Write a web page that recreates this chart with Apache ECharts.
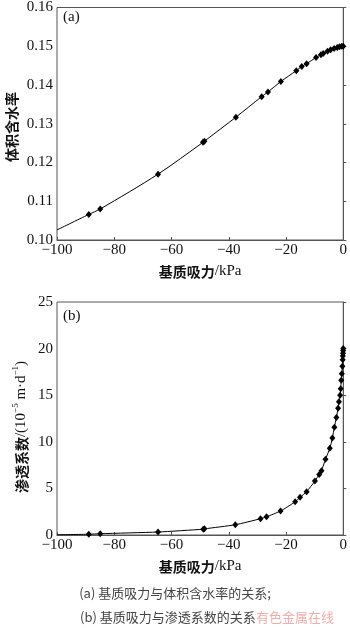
<!DOCTYPE html>
<html><head><meta charset="utf-8">
<script src="https://cdn.jsdelivr.net/npm/echarts@6/dist/echarts.min.js"></script>
<style>html,body{margin:0;padding:0;background:#fff}#c{width:350px;height:628px}</style>
</head><body><div id="c"></div>
<script>
// Panel (a): matric suction (kPa) vs volumetric water content
const suctionA = [-88.9,-84.9,-64.7,-49.0,-48.5,-37.5,-28.5,-26.3,-21.8,-16.4,-14.5,-12.8,-9.5,-7.8,-7.0,-5.5,-4.4,-3.2,-2.1,-1.3,-0.5,0];
const waterA   = [0.1066,0.1080,0.1170,0.1252,0.1255,0.1317,0.1370,0.1382,0.1409,0.1437,0.1448,0.1455,0.1471,0.1478,0.1481,0.1487,0.1491,0.1494,0.1497,0.1499,0.1500,0.1500];
const curveStartA = [-100, 0.1026];
// Panel (b): matric suction (kPa) vs permeability (1e-5 m/d)
const suctionB = [-88.9,-84.9,-64.7,-48.9,-48.5,-37.7,-28.9,-26.8,-21.9,-16.8,-15.1,-12.8,-9.9,-8.4,-7.6,-6.2,-4.7,-3.8,-3.1,-2.4,-1.8,-1.5,-1.1,-0.9,-0.7,-0.5,-0.3,-0.2,-0.15,-0.1,-0.05,0];
const permB    = [0.08,0.14,0.32,0.62,0.66,1.1,1.75,1.96,2.57,3.57,4.04,4.65,5.79,6.5,6.9,8.12,9.3,10.4,11.56,12.6,13.6,14.3,15.0,15.7,16.6,17.3,18.1,18.8,19.2,19.5,19.8,20.0];
const curveStartB = [-100, 0.03];
const xTicks = [-100,-80,-60,-40,-20,0];
const yTicksA = [0.10,0.11,0.12,0.13,0.14,0.15,0.16];
const yTicksB = [0,5,10,15,20,25];

const serif = '"Liberation Serif","Times New Roman",serif';
const cjk = '"Noto Sans CJK SC","Liberation Serif",serif';
const minus = v => String(v).replace('-', '\u2212');

function mk(xs, ys, start){
  const d = [{value:start, symbol:'none'}];
  xs.forEach((x,i)=>d.push([x, ys[i]]));
  return d;
}
const axisLineStyle = {lineStyle:{color:'#555',width:1}};
function xAxis(gi){
  return {type:'value', gridIndex:gi, min:xTicks[0], max:xTicks[xTicks.length-1], interval:20,
    axisLine:{show:true, onZero:false, ...axisLineStyle}, axisTick:{show:true, inside:true, length:3, lineStyle:{color:'#555'}},
    splitLine:{show:false},
    axisLabel:{formatter:minus, fontFamily:serif, fontSize:15, color:'#111', margin:3},
    name:'{c|基质吸力}{s|/kPa}', nameLocation:'middle', nameGap:24,
    nameTextStyle:{color:'#111', rich:{
      c:{fontFamily:cjk, fontSize:14, fontWeight:'bold', color:'#111'},
      s:{fontFamily:serif, fontSize:15, color:'#111'}}}};
}
const chart = echarts.init(document.getElementById('c'), null, {renderer:'canvas'});
chart.setOption({
  animation:false,
  backgroundColor:'#fff',
  grid:[
    {left:57, top:5, width:290, height:235, show:true, borderColor:'#555', borderWidth:1},
    {left:57, top:302, width:290, height:233, show:true, borderColor:'#555', borderWidth:1}
  ],
  xAxis:[xAxis(0), xAxis(1)],
  yAxis:[
    {type:'value', gridIndex:0, min:yTicksA[0], max:yTicksA[yTicksA.length-1], interval:0.01,
      axisLine:{show:true, ...axisLineStyle}, axisTick:{show:true, inside:true, length:3, lineStyle:{color:'#555'}}, splitLine:{show:false},
      axisLabel:{formatter:v=>v.toFixed(2), fontFamily:serif, fontSize:15, color:'#111', margin:4}},
    {type:'value', gridIndex:1, min:yTicksB[0], max:yTicksB[yTicksB.length-1], interval:5,
      axisLine:{show:true, ...axisLineStyle}, axisTick:{show:true, inside:true, length:3, lineStyle:{color:'#555'}}, splitLine:{show:false},
      axisLabel:{fontFamily:serif, fontSize:15, color:'#111', margin:4}}
  ],
  series:[
    {type:'line', xAxisIndex:0, yAxisIndex:0, data:mk(suctionA, waterA, curveStartA), smooth:0.3,
      symbol:'diamond', symbolSize:[6,7], showAllSymbol:true,
      lineStyle:{color:'#000', width:1}, itemStyle:{color:'#000'}},
    {type:'line', xAxisIndex:1, yAxisIndex:1, data:mk(suctionB, permB, curveStartB), smooth:0.2,
      symbol:'diamond', symbolSize:[6,7], showAllSymbol:true,
      lineStyle:{color:'#000', width:1}, itemStyle:{color:'#000'}}
  ],
  graphic:[
    {type:'text', left:63, top:10, style:{text:'(a)', font:'15px '+serif, fill:'#111'}},
    {type:'text', left:63, top:309, style:{text:'(b)', font:'15px '+serif, fill:'#111'}},
    {type:'text', x:12, y:127, rotation:Math.PI/2, style:{text:'体积含水率', font:'bold 14px '+cjk, fill:'#111', align:'center', verticalAlign:'middle'}},
    {type:'text', x:20, y:427, rotation:Math.PI/2, style:{
      text:'{c|渗透系数}{s|/(10}{u|−5}{s| m·d}{u|−1}{s|)}', align:'center', verticalAlign:'middle',
      rich:{
        c:{font:'bold 14px '+cjk, fill:'#111', lineHeight:18, verticalAlign:'bottom'},
        s:{font:'15px '+serif, fill:'#111', lineHeight:18, verticalAlign:'bottom'},
        u:{font:'9px '+serif, fill:'#111', lineHeight:18, verticalAlign:'top'}
      }}},
    {type:'text', x:175, y:593, style:{text:'(a) 基质吸力与体积含水率的关系;', font:'13px '+cjk, fill:'#444', align:'center', verticalAlign:'middle'}},
    {type:'text', x:80, y:617, style:{text:'(b) 基质吸力与渗透系数的关系', font:'13px '+cjk, fill:'#444', align:'left', verticalAlign:'middle'}},
    {type:'text', x:256, y:617, style:{text:'有色金属在线', font:'13px '+cjk, fill:'rgba(240,150,150,0.8)', align:'left', verticalAlign:'middle'}}
  ]
});
</script></body></html>
